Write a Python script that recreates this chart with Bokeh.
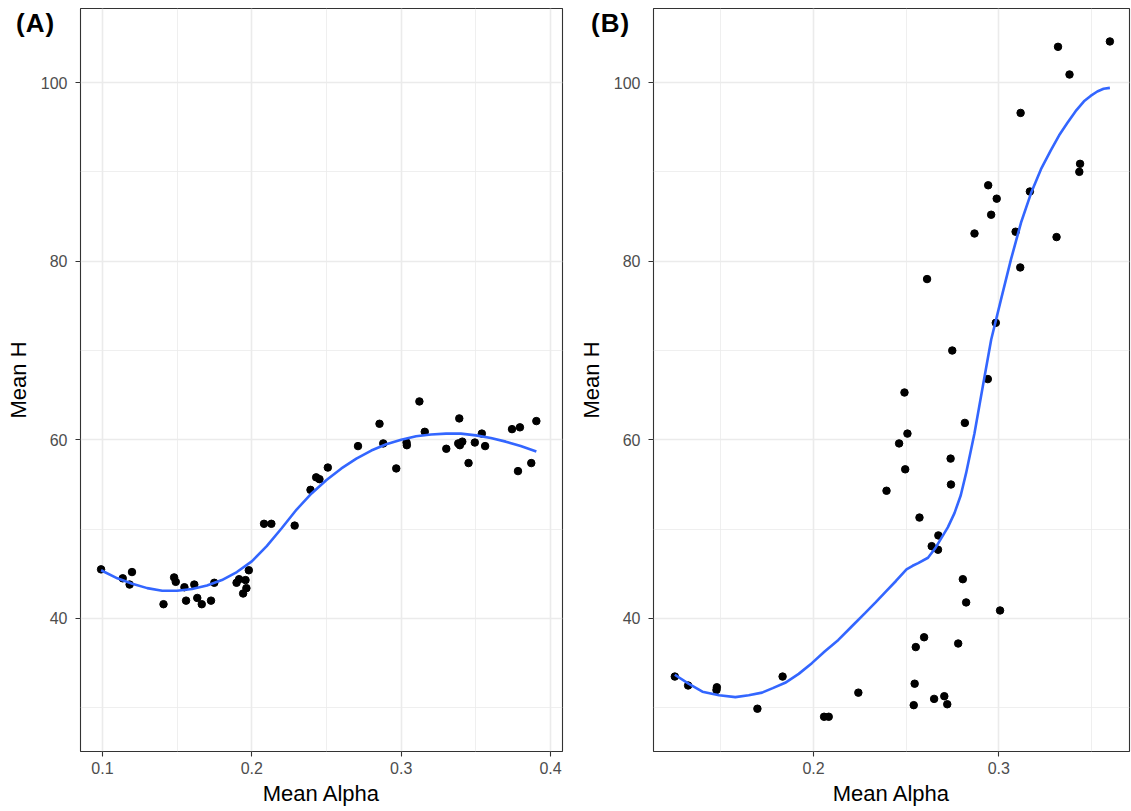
from bokeh.plotting import figure
from bokeh.layouts import row
from bokeh.models import FixedTicker, Range1d, Div
from bokeh.embed import file_html
from bokeh.resources import INLINE

# ---------------- data ----------------
# Panel (A)
alpha_a = [0.0991, 0.1136, 0.1198, 0.1182, 0.1409, 0.1480, 0.1491, 0.1549, 0.1560, 0.1615,
           0.1635, 0.1665, 0.1727, 0.1749, 0.1898, 0.1915, 0.1958, 0.1964, 0.1942, 0.1980,
           0.2082, 0.2131, 0.2287, 0.2393, 0.2431, 0.2453, 0.2509, 0.2711, 0.2855, 0.2880,
           0.2967, 0.3036, 0.3038, 0.3122, 0.3158, 0.3302, 0.3382, 0.3389, 0.3393, 0.3409,
           0.3451, 0.3493, 0.3540, 0.3562, 0.3742, 0.3795, 0.3782, 0.3871, 0.3905]
h_a = [45.5, 44.5, 45.2, 43.8, 41.6, 44.6, 44.1, 43.5, 42.0, 43.8,
       42.3, 41.6, 42.0, 44.0, 44.0, 44.4, 44.3, 43.4, 42.8, 45.4,
       50.6, 50.6, 50.4, 54.4, 55.8, 55.6, 56.9, 59.3, 61.8, 59.6,
       56.8, 59.7, 59.4, 64.3, 60.9, 59.0, 59.6, 62.4, 59.4, 59.8,
       57.4, 59.7, 60.7, 59.3, 61.2, 61.4, 56.5, 57.4, 62.1]
fit_a_x = [0.0991, 0.11, 0.12, 0.13, 0.14, 0.15, 0.16, 0.17, 0.18, 0.19, 0.20, 0.21, 0.22,
           0.23, 0.24, 0.25, 0.26, 0.27, 0.28, 0.29, 0.30, 0.31, 0.32, 0.33, 0.34, 0.35,
           0.36, 0.37, 0.38, 0.3905]
fit_a_y = [45.4, 44.5, 43.9, 43.4, 43.1, 43.1, 43.3, 43.7, 44.3, 45.2, 46.4, 48.1, 50.1,
           52.2, 54.0, 55.5, 56.8, 57.9, 58.8, 59.5, 60.0, 60.4, 60.6, 60.7, 60.7, 60.5,
           60.2, 59.8, 59.3, 58.7]

# Panel (B)
alpha_b = [0.3320, 0.3600, 0.3382, 0.3118, 0.3439, 0.3435, 0.2943, 0.2989, 0.3168, 0.2959,
           0.2869, 0.3091, 0.3312, 0.3116, 0.2613, 0.2984, 0.2749, 0.2941, 0.2491, 0.2817,
           0.2507, 0.2462, 0.2740, 0.2495, 0.2742, 0.2394, 0.2572, 0.2674, 0.2638, 0.2672,
           0.2806, 0.2824, 0.3007, 0.2597, 0.2552, 0.2781, 0.2546, 0.2651, 0.2706, 0.2722,
           0.2541, 0.2242, 0.2057, 0.2082, 0.1833, 0.1697, 0.1478, 0.1476, 0.1323, 0.1251]
h_b = [104.0, 104.6, 100.9, 96.6, 90.9, 90.0, 88.5, 87.0, 87.8, 85.2,
       83.1, 83.3, 82.7, 79.3, 78.0, 73.1, 70.0, 66.8, 65.3, 61.9,
       60.7, 59.6, 57.9, 56.7, 55.0, 54.3, 51.3, 49.3, 48.1, 47.7,
       44.4, 41.8, 40.9, 37.9, 36.8, 37.2, 32.7, 31.0, 31.3, 30.4,
       30.3, 31.7, 29.0, 29.0, 33.5, 29.9, 32.3, 32.0, 32.5, 33.5]
fit_b_x = [0.1251, 0.1325, 0.1400, 0.1490, 0.1578, 0.1650, 0.1722, 0.1780, 0.1847, 0.1920,
           0.1991, 0.2060, 0.2134, 0.2206, 0.2278, 0.2335, 0.2385, 0.2445, 0.2502, 0.2535,
           0.2565, 0.2618, 0.2655, 0.2690, 0.2725, 0.2761, 0.2795, 0.2824, 0.2869, 0.2914,
           0.2959, 0.3012, 0.3066, 0.3120, 0.3174, 0.3228, 0.3281, 0.3326, 0.3371, 0.3415,
           0.3460, 0.3496, 0.3532, 0.3566, 0.3600]
fit_b_y = [33.7, 32.7, 31.8, 31.4, 31.2, 31.4, 31.7, 32.2, 32.8, 33.8,
           35.0, 36.3, 37.6, 39.1, 40.6, 41.8, 42.9, 44.2, 45.5, 45.9,
           46.2, 46.8, 47.8, 49.0, 50.2, 51.8, 53.8, 56.3, 60.75, 66.0,
           71.2, 75.7, 80.2, 84.3, 87.6, 90.3, 92.4, 94.1, 95.5, 96.8,
           97.9, 98.5, 99.0, 99.3, 99.4]

x_ticks_a = [0.1, 0.2, 0.3, 0.4]
x_tick_labels_a = ["0.1", "0.2", "0.3", "0.4"]
x_minor_a = [0.15, 0.25, 0.35]
x_ticks_b = [0.2, 0.3]
x_tick_labels_b = ["0.2", "0.3"]
x_minor_b = [0.15, 0.25, 0.35]
y_ticks = [40, 60, 80, 100]
y_tick_labels = ["40", "60", "80", "100"]
y_minor = [30, 50, 70, 90]
panel_tags = ["(A)", "(B)"]

FONT = "Liberation Sans"
H = 811


def panel(width, b_left, b_right, xr, xt, xl, xm, ax, ay, fx, fy):
    p = figure(width=width, height=H, output_backend="svg", toolbar_location=None,
               x_range=Range1d(*xr), y_range=Range1d(25.11, 108.29),
               min_border_left=b_left, min_border_right=b_right,
               min_border_top=8, min_border_bottom=60,
               background_fill_color="white", border_fill_color="white")
    p.outline_line_color = "#333333"
    p.outline_line_width = 1.1

    p.xaxis.ticker = FixedTicker(ticks=xt, minor_ticks=xm)
    p.yaxis.ticker = FixedTicker(ticks=y_ticks, minor_ticks=y_minor)
    p.xaxis.major_label_overrides = dict(zip(xt, xl))
    p.yaxis.major_label_overrides = dict(zip(y_ticks, y_tick_labels))

    for ax_ in (p.xaxis, p.yaxis):
        ax_.axis_line_color = None
        ax_.major_tick_line_color = "#333333"
        ax_.major_tick_line_width = 1.1
        ax_.major_tick_out = 5
        ax_.major_tick_in = 0
        ax_.minor_tick_line_color = None
        ax_.major_label_text_font = FONT
        ax_.major_label_text_font_size = "16px"
        ax_.major_label_text_color = "#4D4D4D"
        ax_.axis_label_text_font = FONT
        ax_.axis_label_text_font_size = "22px"
        ax_.axis_label_text_font_style = "normal"
        ax_.axis_label_text_color = "black"

    p.xaxis.axis_label = "Mean Alpha"
    p.yaxis.axis_label = "Mean H"
    p.xaxis.major_label_standoff = 5
    p.xaxis.axis_label_standoff = 4
    p.yaxis.major_label_standoff = 8
    p.yaxis.axis_label_standoff = 7

    for g in (p.xgrid, p.ygrid):
        g.grid_line_color = "#EBEBEB"
        g.grid_line_width = 1.6
        g.minor_grid_line_color = "#EBEBEB"
        g.minor_grid_line_width = 0.8

    p.scatter(x=ax, y=ay, size=7.5, color="black")
    p.line(x=fx, y=fy, line_color="#3366FF", line_width=2.6)
    return p


def tag_div(text, left, top):
    return Div(text=text, width=64, height=36,
               styles={"position": "absolute", "left": f"{left}px", "top": f"{top}px",
                       "z-index": "10", "font-family": FONT, "font-size": "26px",
                       "font-weight": "bold", "line-height": "1", "letter-spacing": "1px",
                       "color": "black", "margin": "0", "padding": "0"})


pA = panel(575, 80, 13, (0.08533, 0.408), x_ticks_a, x_tick_labels_a, x_minor_a,
           alpha_a, h_a, fit_a_x, fit_a_y)
pB = panel(556, 76, 2, (0.11360, 0.37059), x_ticks_b, x_tick_labels_b, x_minor_b,
           alpha_b, h_b, fit_b_x, fit_b_y)

layout = row(pA, pB, tag_div(panel_tags[0], 16, 10), tag_div(panel_tags[1], 591, 10))
open("out.html", "w").write(file_html(layout, INLINE))
